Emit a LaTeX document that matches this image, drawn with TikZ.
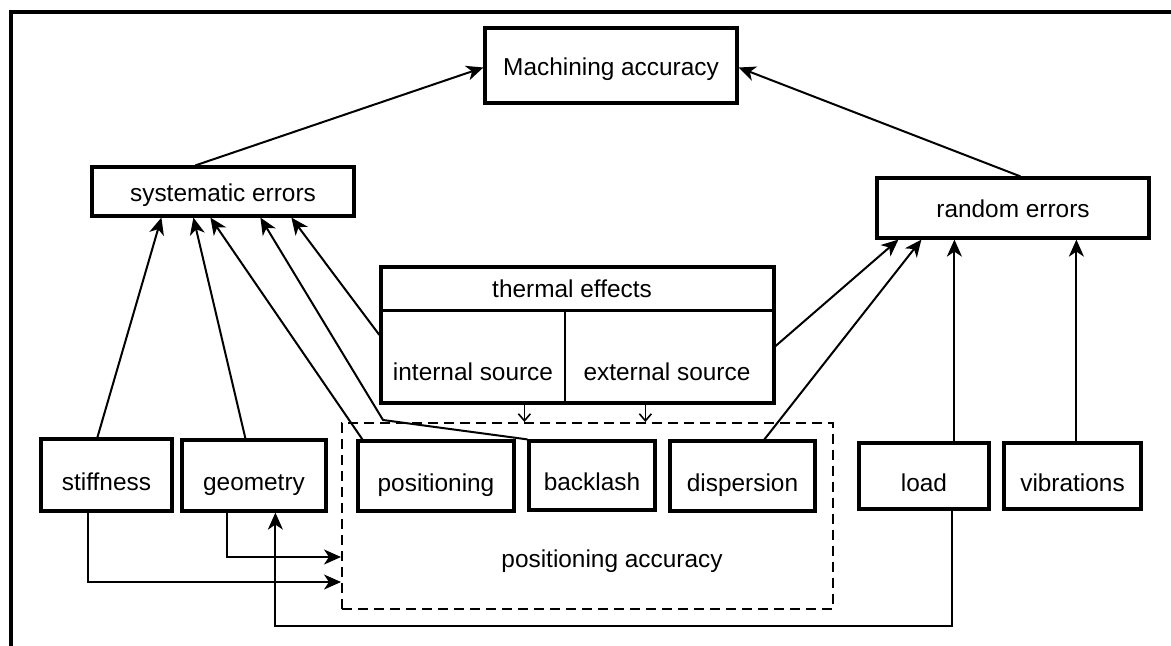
\documentclass[tikz,border=0pt]{standalone}
\usepackage{fontspec}
\setmainfont{Liberation Sans}
\usetikzlibrary{arrows.meta}
\begin{document}
\begin{tikzpicture}[x=0.5pt,y=-0.5pt,
  txt/.style={font=\fontsize{12.2}{14}\selectfont,text height=8.9pt,text depth=2.6pt},
  box/.style={draw,line width=1.6pt,inner sep=0pt,txt},
  topbox/.style={box,text height=12.4pt},
  botbox/.style={box,text height=17.9pt},
  lbl/.style={inner sep=0pt,txt},
  conn/.style={line width=1pt,-{Stealth[length=8.5pt,width=7.5pt,inset=2.5pt]}},
  small/.style={line width=0.8pt,-{Straight Barb[length=3.5pt,width=6pt]}},
  dashbox/.style={draw,line width=1pt,dash pattern=on 5pt off 3pt,inner sep=0pt}
]
\useasboundingbox (0,0) rectangle (1171,646);
% outer frame
\draw[line width=1.6pt] (11,660) -- (11,12) -- (1185,12);

% nodes
\node[topbox,minimum width=126pt,minimum height=37.5pt] (mach) at (611,65.5) {Machining accuracy};
\node[topbox,minimum width=131pt,minimum height=24.5pt] (sys) at (223,191.5) {systematic errors};
\node[topbox,minimum width=136pt,minimum height=30pt] (rand) at (1013,208) {random errors};

\node[box,minimum width=196.5pt,minimum height=68pt] (therm) at (577.5,335) {};
\draw[line width=1.6pt] ([yshift=-22.5pt]therm.north west) -- ([yshift=-22.5pt]therm.north east);
\draw[line width=1pt] ([xshift=93pt,yshift=-22.5pt]therm.north west) -- ([xshift=93pt]therm.south west);
\node[lbl] (tht) at (572,291) {thermal effects};
\node[lbl] (tin) at (473,374) {internal source};
\node[lbl] (tex) at (667,374) {external source};

\node[dashbox,minimum width=245.5pt,minimum height=93pt] (pa) at (587.5,516) {};
\node[lbl] (pat) at (612,561) {positioning accuracy};

\node[botbox,minimum width=65.5pt,minimum height=36pt] (stiff) at (106.5,475) {stiffness};
\node[botbox,minimum width=72pt,minimum height=35.5pt] (geom) at (254,475.5) {geometry};
\node[botbox,minimum width=78pt,minimum height=35pt] (pos) at (436,476) {positioning};
\node[botbox,minimum width=63pt,minimum height=34.5pt] (back) at (592,475.5) {backlash};
\node[botbox,minimum width=72.5pt,minimum height=35pt] (disp) at (742.5,476) {dispersion};
\node[botbox,minimum width=65pt,minimum height=33pt] (load) at (924,476) {load};
\node[botbox,minimum width=68.5pt,minimum height=33pt] (vib) at (1072.5,476) {vibrations};

% connectors to machining accuracy
\draw[conn] ([xshift=52.5pt]sys.north west) -- ([yshift=-1pt]mach.west);
\draw[conn] ([xshift=72.5pt]rand.north west) -- ([yshift=-1pt]mach.east);

% connectors to systematic errors
\draw[conn] ([xshift=29pt]stiff.north west) -- ([xshift=35.5pt]sys.south west);
\draw[conn] ([xshift=32.5pt]geom.north west) -- ([xshift=51.5pt]sys.south west);
\draw[conn] ([xshift=3pt]pos.north west) -- ([xshift=60pt]sys.south west);
\coordinate (bk) at (383,420);
\draw[conn] (back.north west) -- (bk) -- ([xshift=85pt]sys.south west);
\draw[conn] (therm.west) -- ([xshift=100.5pt]sys.south west);

% connectors to random errors
\draw[conn] ([yshift=-5.5pt]therm.east) -- ([xshift=11.5pt]rand.south west);
\draw[conn] ([xshift=48pt]disp.north west) -- ([xshift=23pt]rand.south west);
\coordinate (lt) at ([xshift=48.5pt]load.north west);
\draw[conn] (lt) -- (lt |- rand.south);
\coordinate (vt) at ([xshift=37pt]vib.north west);
\draw[conn] (vt) -- (vt |- rand.south);

% thermal to positioning accuracy
\coordinate (ti) at ([xshift=72.5pt]therm.south west);
\coordinate (te) at ([xshift=133pt]therm.south west);
\draw[small] (ti) -- (ti |- pa.north);
\draw[small] (te) -- (te |- pa.north);

% bottom connectors
\draw[conn] ([xshift=23.5pt]geom.south west) |- ([yshift=-20.5pt]pa.west);
\draw[conn] ([xshift=24.5pt]stiff.south west) |- ([yshift=-33pt]pa.west);
\draw[conn] ([xshift=47.5pt]load.south west) -- ++(0,115) -| ([xshift=47.5pt]geom.south west);
\end{tikzpicture}
\end{document}
